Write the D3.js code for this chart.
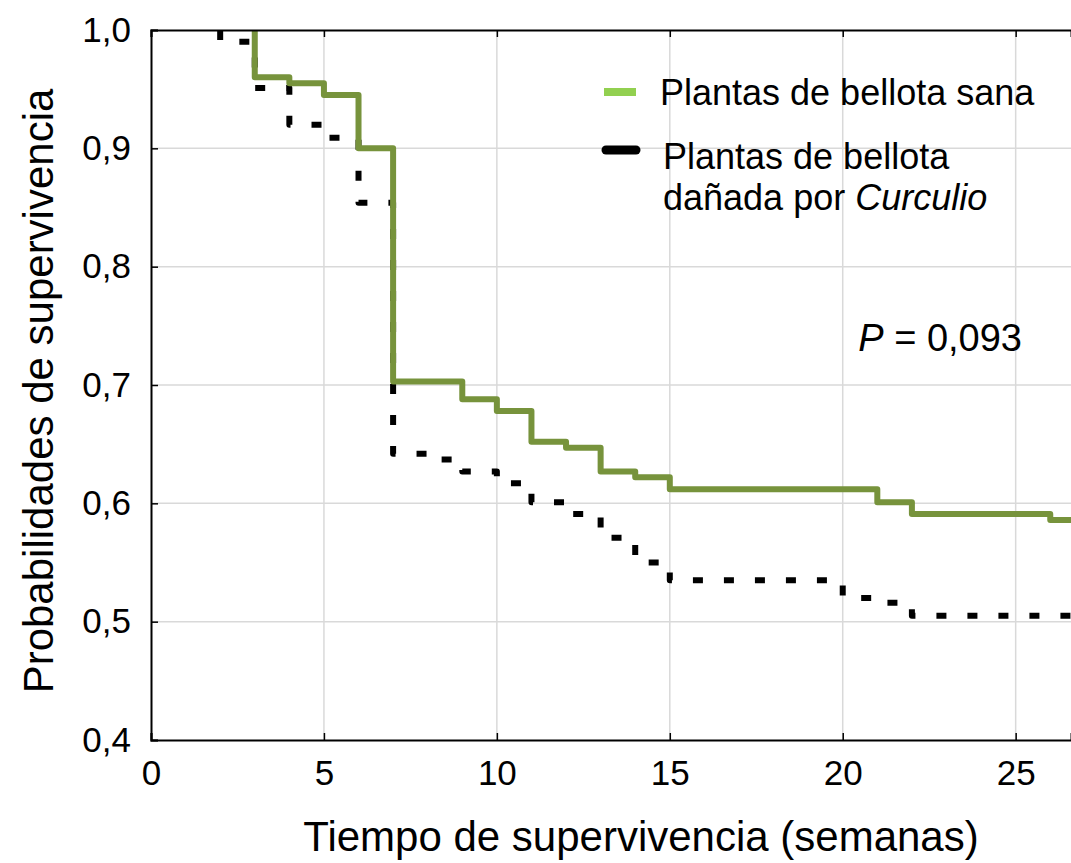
<!DOCTYPE html>
<html>
<head>
<meta charset="utf-8">
<script src="https://cdn.jsdelivr.net/npm/d3@7"></script>
<style>
  body { margin: 0; background: #fff; }
  text { font-family: "Liberation Sans", Arial, sans-serif; fill: #000; }
</style>
</head>
<body>
<div id="chart"></div>
<script>
// survival steps
var sanaTimes = [3, 3, 4, 5, 6, 7, 9, 10, 11, 12, 13, 14, 15, 21, 22, 26];
var sanaSurv = [1.0, 0.960, 0.955, 0.945, 0.900, 0.703, 0.688, 0.678, 0.652, 0.647, 0.627, 0.622, 0.612, 0.601, 0.591, 0.586];

var curcTimes = [2, 2, 3, 4, 5, 6, 7, 8, 9, 10, 11, 12, 13, 14, 15, 20, 21, 22];
var curcSurv = [1.0, 0.990, 0.951, 0.920, 0.909, 0.854, 0.642, 0.637, 0.627, 0.617, 0.601, 0.591, 0.571, 0.550, 0.535, 0.520, 0.516, 0.505];

var xTicks = [0, 5, 10, 15, 20, 25];
var yTicks = [0.4, 0.5, 0.6, 0.7, 0.8, 0.9, 1.0];
var legendLabels = ['Plantas de bellota sana', 'Plantas de bellota', 'dañada por '];

var margin = { left: 151, right: 0, top: 30, bottom: 123 };
var width = 1071 - margin.left - margin.right,
    height = 863 - margin.top - margin.bottom;

var xMax = 26.6;

var svg = d3.select('#chart')
    .append('svg')
    .attr('width', 1071)
    .attr('height', 863);

var g = svg.append('g')
    .attr('transform', 'translate(' + margin.left + ',' + margin.top + ')');

var x = d3.scaleLinear().domain([0, xMax]).range([0, width]);
var y = d3.scaleLinear().domain([0.4, 1.0]).range([height, 0]);

var fmt = function (d) { return d3.format('.1f')(d).replace('.', ','); };

// grid
g.append('g')
    .selectAll('line.gx')
    .data(xTicks.filter(function (d) { return d > 0; }))
    .enter().append('line')
    .attr('x1', function (d) { return x(d); })
    .attr('x2', function (d) { return x(d); })
    .attr('y1', 0).attr('y2', height)
    .attr('stroke', '#d9d9d9').attr('stroke-width', 1.5);
g.append('g')
    .selectAll('line.gy')
    .data(yTicks.filter(function (d) { return d > 0.4 && d < 1.0; }))
    .enter().append('line')
    .attr('x1', 0).attr('x2', width)
    .attr('y1', function (d) { return y(d); })
    .attr('y2', function (d) { return y(d); })
    .attr('stroke', '#d9d9d9').attr('stroke-width', 1.5);

// curves
svg.append('clipPath').attr('id', 'clip')
    .append('rect').attr('width', width).attr('height', height);

var line = d3.line()
    .x(function (d) { return x(d[0]); })
    .y(function (d) { return y(d[1]); })
    .curve(d3.curveStepAfter);

function pts(times, surv) {
    var p = times.map(function (t, i) { return [t, surv[i]]; });
    p.push([xMax + 1, surv[surv.length - 1]]);
    return p;
}

var curves = g.append('g').attr('clip-path', 'url(#clip)');

curves.append('path')
    .attr('d', line(pts(curcTimes, curcSurv)))
    .attr('fill', 'none')
    .attr('stroke', '#000')
    .attr('stroke-width', 6)
    .attr('stroke-dasharray', '10,21')
    .attr('stroke-linejoin', 'round');

curves.append('path')
    .attr('d', line(pts(sanaTimes, sanaSurv)))
    .attr('fill', 'none')
    .attr('stroke', '#77933c')
    .attr('stroke-width', 6)
    .attr('stroke-linejoin', 'round');

// axes
var xAxis = g.append('g')
    .attr('transform', 'translate(0,' + height + ')')
    .call(d3.axisBottom(x).tickValues(xTicks).tickSize(-7).tickPadding(20).tickFormat(d3.format('d')));
var xTop = g.append('g')
    .call(d3.axisTop(x).tickValues(xTicks).tickSize(-7).tickFormat(''));
var yAxis = g.append('g')
    .call(d3.axisLeft(y).tickValues(yTicks).tickSize(-7).tickPadding(20).tickFormat(fmt));

[xAxis, xTop, yAxis].forEach(function (a) {
    a.select('.domain').attr('stroke', '#000').attr('stroke-width', 2);
    a.selectAll('.tick line').attr('stroke', '#000').attr('stroke-width', 1.5);
    a.selectAll('text').attr('font-size', '35px').attr('font-family', '"Liberation Sans", Arial, sans-serif');
});
xAxis.selectAll('text').attr('dy', '0.72em');

// axis titles
svg.append('text')
    .attr('x', 641)
    .attr('y', 851)
    .attr('font-size', '42px')
    .attr('text-anchor', 'middle')
    .text('Tiempo de supervivencia (semanas)');

svg.append('text')
    .attr('transform', 'translate(53,' + 391 + ') rotate(-90)')
    .attr('font-size', '42px')
    .attr('text-anchor', 'middle')
    .text('Probabilidades de supervivencia');

// legend
var leg = svg.append('g');
leg.append('line')
    .attr('x1', 604).attr('x2', 636).attr('y1', 92).attr('y2', 92)
    .attr('stroke', '#92d050').attr('stroke-width', 8);
leg.append('line')
    .attr('x1', 606).attr('x2', 636).attr('y1', 150).attr('y2', 150)
    .attr('stroke', '#000').attr('stroke-width', 9).attr('stroke-linecap', 'round');
leg.append('text').attr('x', 660).attr('y', 105).attr('font-size', '36px').text(legendLabels[0]);
leg.append('text').attr('x', 663).attr('y', 169).attr('font-size', '36px').text(legendLabels[1]);
var t3 = leg.append('text').attr('x', 663).attr('y', 210).attr('font-size', '36px');
t3.append('tspan').text(legendLabels[2]);
t3.append('tspan').attr('font-style', 'italic').text('Curculio');

// p value
var pt = svg.append('text').attr('x', 1022).attr('y', 351).attr('font-size', '38px').attr('text-anchor', 'end');
pt.append('tspan').attr('font-style', 'italic').text('P');
pt.append('tspan').text(' = 0,093');
</script>
</body>
</html>
